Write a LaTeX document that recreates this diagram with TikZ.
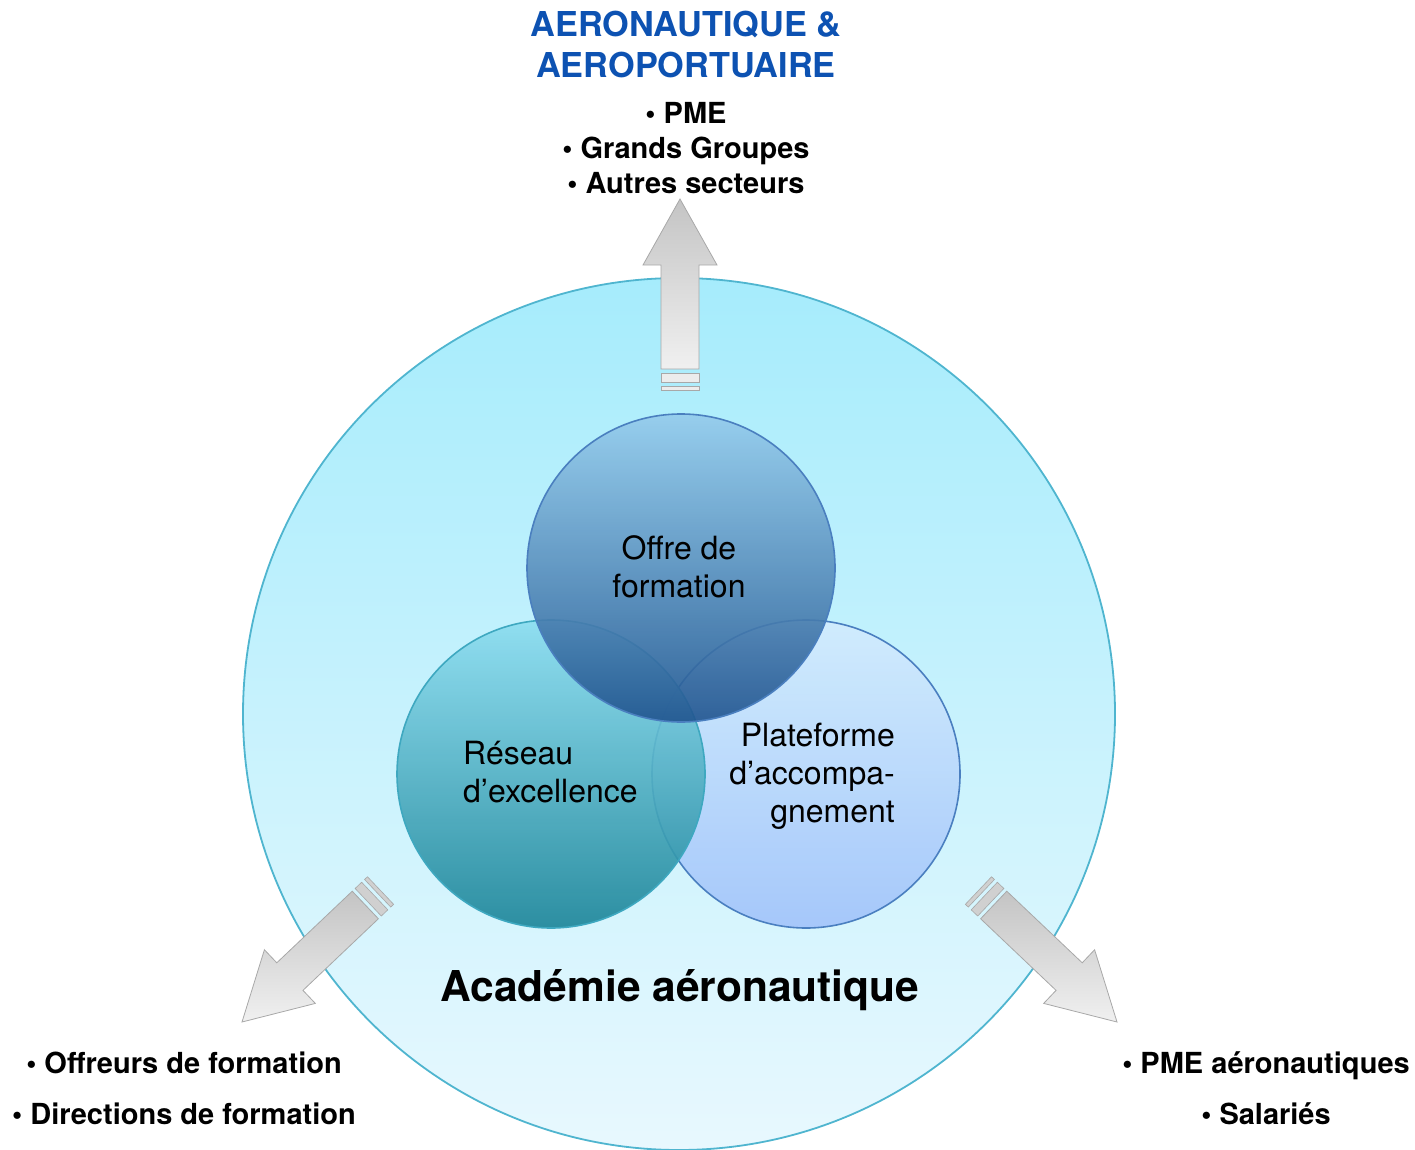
\documentclass[tikz,border=0pt]{standalone}
\usepackage{fontspec}
\setmainfont{TeX Gyre Heros}
\setsansfont{TeX Gyre Heros}
\definecolor{bigtop}{HTML}{A6ECFC}
\definecolor{bigbot}{HTML}{E8F8FE}
\definecolor{bigline}{HTML}{4FB5CF}
\definecolor{toptop}{HTML}{94CBEC}
\definecolor{topbot}{HTML}{20548F}
\definecolor{topline}{HTML}{4A7FBF}
\definecolor{lefttop}{HTML}{8CDDF0}
\definecolor{leftbot}{HTML}{1A8498}
\definecolor{leftline}{HTML}{3EA8C0}
\definecolor{righttop}{HTML}{D2ECFD}
\definecolor{rightbot}{HTML}{A2C4FA}
\definecolor{rightline}{HTML}{4A7FC0}
\definecolor{titleblue}{HTML}{0D52B2}
\definecolor{arrtop}{HTML}{C4C4C4}
\definecolor{arrbot}{HTML}{F0F0F0}
\definecolor{arrline}{HTML}{A8A8A8}
\definecolor{barlight}{HTML}{ECECEC}
\definecolor{bardark}{HTML}{D0D0D0}
\tikzset{
  disc/.style={circle, inner sep=0pt, minimum size=308pt, line width=1.6pt},
  bullets/.style={font=\bfseries\fontsize{29}{35}\selectfont, align=center, inner sep=0pt},
  bulletslow/.style={font=\bfseries\fontsize{29}{51}\selectfont, align=center, inner sep=0pt},
  inner/.style={font=\fontsize{32}{38}\selectfont, inner sep=0pt},
  pics/bigarrow/.style={code={
    \path[draw=arrline, line width=0.8pt, top color=arrtop, bottom color=arrbot]
      (0,0) -- (-66,37) -- (-66,19) -- (-170,19) -- (-170,-19) -- (-66,-19) -- (-66,-37) -- cycle;
    \path[draw=arrline, line width=0.6pt, fill=#1] (-174,19) rectangle (-183,-19);
    \path[draw=arrline, line width=0.6pt, fill=#1] (-187,19) rectangle (-191,-19);
  }}
}
\begin{document}
\begin{tikzpicture}[x=1pt, y=-1pt]
\useasboundingbox (0,0) rectangle (1415,1150);
% big circle
\node[circle, inner sep=0pt, minimum size=872pt, draw=bigline, line width=1.8pt,
      top color=bigtop, bottom color=bigbot] (big) at (679,714) {};
% arrows
\pic[rotate=90] (uparrow) at (680,199) {bigarrow=barlight};
\pic[rotate=223.5] (leftarrow) at (242,1022) {bigarrow=bardark};
\pic[rotate=-43.5] (rightarrow) at (1117,1022) {bigarrow=bardark};
% three discs
\node[disc, draw=rightline, top color=righttop, bottom color=rightbot, fill opacity=0.92] (plat) at (806,774) {};
\node[disc, draw=leftline, top color=lefttop, bottom color=leftbot, fill opacity=0.9] (reseau) at (551,774) {};
\node[disc, draw=topline, top color=toptop, bottom color=topbot, fill opacity=0.9] (offre) at (681,568) {};
% texts in discs
\node[inner, align=center] (offret) at (679,567) {Offre de\\formation};
\node[inner, align=left, anchor=west] (reseaut) at (463,772) {Réseau\\d’excellence};
\node[inner, align=right, anchor=east] (platt) at (895,776) {Plateforme\\d’accompa-\\gnement};
% title
\node[font=\bfseries\fontsize{42.5}{50}\selectfont, inner sep=0pt] (acad) at (680,990) {Académie aéronautique};
\node[font=\bfseries\fontsize{34.3}{41}\selectfont, text=titleblue, align=center, inner sep=0pt] (sect) at (686,45) {AERONAUTIQUE \&\\AEROPORTUAIRE};
\node[bullets] (toplist) at (686,148) {• PME\\• Grands Groupes\\• Autres secteurs};
\node[bulletslow] (leftlist) at (184,1088) {• Offreurs de formation\\• Directions de formation};
\node[bulletslow] (rightlist) at (1266,1088) {• PME aéronautiques\\• Salariés};
\end{tikzpicture}
\end{document}
